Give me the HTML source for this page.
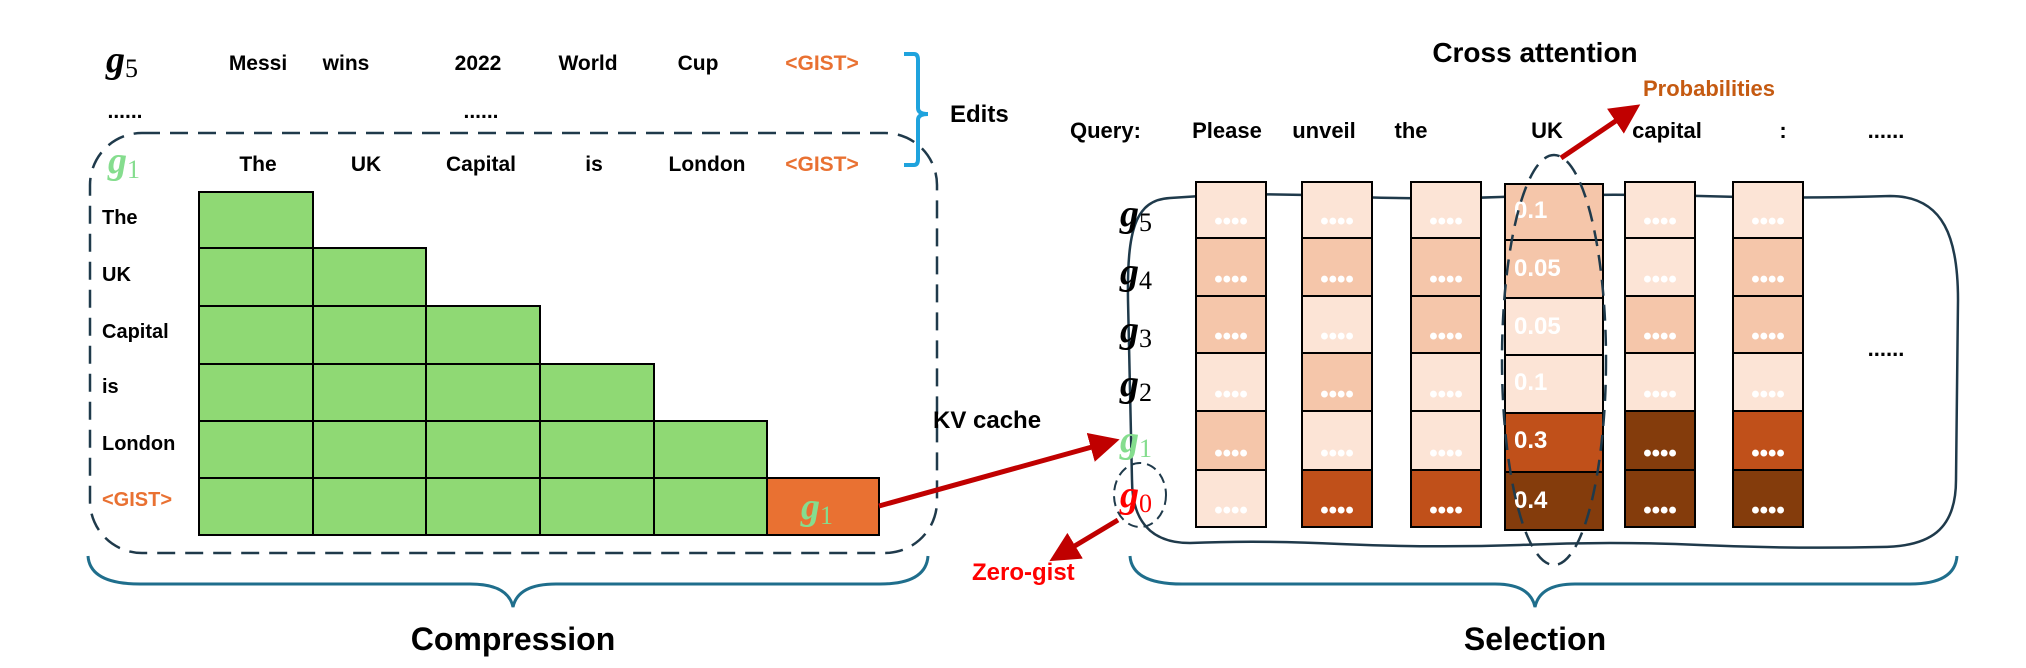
<!DOCTYPE html>
<html><head><meta charset="utf-8"><style>
html,body{margin:0;padding:0;background:#fff;}
svg{display:block;}
text{font-family:"Liberation Sans",sans-serif;font-weight:bold;}
.g{font-family:"Liberation Serif",serif;font-style:italic;font-weight:bold;}
.s{font-family:"Liberation Serif",serif;font-style:normal;font-weight:normal;}
</style></head><body>
<svg width="2026" height="668" viewBox="0 0 2026 668" xmlns="http://www.w3.org/2000/svg">
<defs>
<marker id="ar" markerWidth="6" markerHeight="6" refX="4" refY="3" orient="auto" markerUnits="strokeWidth"><path d="M0,0 L6,3 L0,6 z" fill="#C00000"/></marker>
</defs>

<!-- LEFT: top rows -->
<g font-size="21" text-anchor="middle" fill="#000">
<text x="258" y="70">Messi</text><text x="346" y="70">wins</text><text x="478" y="70">2022</text>
<text x="588" y="70">World</text><text x="698" y="70">Cup</text>
<text x="822" y="70" fill="#E97132">&lt;GIST&gt;</text>
<text x="125" y="118">......</text><text x="481" y="118">......</text>
<text x="258" y="171">The</text><text x="366" y="171">UK</text><text x="481" y="171">Capital</text>
<text x="594" y="171">is</text><text x="707" y="171">London</text>
<text x="822" y="171" fill="#E97132">&lt;GIST&gt;</text>
</g>
<text x="106" y="72" font-size="38" class="g">g<tspan class="s" font-size="26" dy="5">5</tspan></text>
<text x="108" y="173" font-size="38" class="g" fill="#85DD8E">g<tspan class="s" font-size="26" dy="5">1</tspan></text>

<!-- blue bracket -->
<path d="M904,54 L914,54 Q918,54 918,60 L918,108 Q918,114 928,114 Q918,114 918,120 L918,159 Q918,165 914,165 L904,165" fill="none" stroke="#1FA3DD" stroke-width="4"/>
<text x="950" y="122" font-size="24">Edits</text>

<!-- dashed box -->
<rect x="90" y="133" width="847" height="420" rx="52" ry="52" fill="none" stroke="#1F3A4B" stroke-width="2.5" stroke-dasharray="18,10"/>

<!-- row labels -->
<g font-size="20">
<text x="102" y="224">The</text><text x="102" y="281">UK</text><text x="102" y="338">Capital</text>
<text x="102" y="393">is</text><text x="102" y="450">London</text>
<text x="102" y="506" fill="#E97132">&lt;GIST&gt;</text>
</g>

<!-- triangle grid -->
<g fill="#8FD974" stroke="#000" stroke-width="2">
<rect x="199" y="192" width="114" height="56"/>
<rect x="199" y="248" width="114" height="58"/><rect x="313" y="248" width="113" height="58"/>
<rect x="199" y="306" width="114" height="58"/><rect x="313" y="306" width="113" height="58"/><rect x="426" y="306" width="114" height="58"/>
<rect x="199" y="364" width="114" height="57"/><rect x="313" y="364" width="113" height="57"/><rect x="426" y="364" width="114" height="57"/><rect x="540" y="364" width="114" height="57"/>
<rect x="199" y="421" width="114" height="57"/><rect x="313" y="421" width="113" height="57"/><rect x="426" y="421" width="114" height="57"/><rect x="540" y="421" width="114" height="57"/><rect x="654" y="421" width="113" height="57"/>
<rect x="199" y="478" width="114" height="57"/><rect x="313" y="478" width="113" height="57"/><rect x="426" y="478" width="114" height="57"/><rect x="540" y="478" width="114" height="57"/><rect x="654" y="478" width="113" height="57"/>
<rect x="767" y="478" width="112" height="57" fill="#E97132"/>
</g>
<text x="801" y="519" font-size="38" class="g" fill="#85DD8E">g<tspan class="s" font-size="26" dy="5">1</tspan></text>

<!-- bottom brace left -->
<path d="M88,556 Q90,584 140,584 L470,584 Q508,584 513,607 Q518,584 556,584 L880,584 Q926,584 928,556" fill="none" stroke="#1F6E8C" stroke-width="3"/>
<text x="513" y="650" font-size="32" text-anchor="middle">Compression</text>

<!-- KV cache arrow -->
<text x="933" y="428" font-size="24">KV cache</text>
<line x1="879" y1="506" x2="1110" y2="442" stroke="#C00000" stroke-width="5" marker-end="url(#ar)"/>

<!-- RIGHT -->
<text x="1535" y="62" font-size="28" text-anchor="middle">Cross attention</text>
<text x="1643" y="96" font-size="22" fill="#C55A11">Probabilities</text>
<line x1="1561" y1="158" x2="1632" y2="110" stroke="#C00000" stroke-width="5" marker-end="url(#ar)"/>
<g font-size="22" text-anchor="middle">
<text x="1070" y="138" text-anchor="start">Query:</text>
<text x="1227" y="138">Please</text><text x="1324" y="138">unveil</text><text x="1411" y="138">the</text>
<text x="1547" y="138">UK</text><text x="1667" y="138">capital</text><text x="1783" y="138">:</text><text x="1886" y="138">......</text>
</g>

<!-- wavy box -->
<path d="M1170,198 Q1250,192 1330,196 Q1420,200 1500,197 Q1600,193 1700,196 Q1800,199 1890,196 C1945,196 1958,240 1958,300 L1956,480 C1956,530 1930,547 1880,547 Q1790,549 1700,545 Q1610,541 1520,545 Q1430,548 1340,544 Q1260,540 1190,543 C1150,543 1132,520 1132,480 L1128,300 C1127,230 1135,200 1170,198 Z" fill="none" stroke="#1F3A4B" stroke-width="2.5"/>

<!-- row labels g5..g0 -->
<g font-size="38" class="g">
<text x="1120" y="226" class="g">g<tspan class="s" font-size="26" dy="5">5</tspan></text>
<text x="1120" y="284" class="g">g<tspan class="s" font-size="26" dy="5">4</tspan></text>
<text x="1120" y="342" class="g">g<tspan class="s" font-size="26" dy="5">3</tspan></text>
<text x="1120" y="396" class="g">g<tspan class="s" font-size="26" dy="5">2</tspan></text>
<text x="1120" y="452" class="g" fill="#85DD8E">g<tspan class="s" font-size="26" dy="5">1</tspan></text>
<text x="1120" y="507" class="g" fill="#FF0000">g<tspan class="s" font-size="26" dy="5">0</tspan></text>
</g>
<ellipse cx="1140" cy="495" rx="26" ry="32" fill="none" stroke="#1F3A4B" stroke-width="2" stroke-dasharray="10,6"/>
<line x1="1118" y1="520" x2="1058" y2="556" stroke="#C00000" stroke-width="5" marker-end="url(#ar)"/>
<text x="972" y="580" font-size="24" fill="#FF0000">Zero-gist</text>

<!-- attention columns -->
<g stroke="#000" stroke-width="2">
<rect x="1196" y="182" width="70" height="56" fill="#FCE4D6"/><rect x="1196" y="238" width="70" height="58" fill="#F5C6AA"/><rect x="1196" y="296" width="70" height="57" fill="#F5C6AA"/><rect x="1196" y="353" width="70" height="58" fill="#FCE4D6"/><rect x="1196" y="411" width="70" height="59" fill="#F5C6AA"/><rect x="1196" y="470" width="70" height="57" fill="#FCE4D6"/>
<rect x="1302" y="182" width="70" height="56" fill="#FCE4D6"/><rect x="1302" y="238" width="70" height="58" fill="#F5C6AA"/><rect x="1302" y="296" width="70" height="57" fill="#FCE4D6"/><rect x="1302" y="353" width="70" height="58" fill="#F5C6AA"/><rect x="1302" y="411" width="70" height="59" fill="#FCE4D6"/><rect x="1302" y="470" width="70" height="57" fill="#C0501A"/>
<rect x="1411" y="182" width="70" height="56" fill="#FCE4D6"/><rect x="1411" y="238" width="70" height="58" fill="#F5C6AA"/><rect x="1411" y="296" width="70" height="57" fill="#F5C6AA"/><rect x="1411" y="353" width="70" height="58" fill="#FCE4D6"/><rect x="1411" y="411" width="70" height="59" fill="#FCE4D6"/><rect x="1411" y="470" width="70" height="57" fill="#C0501A"/>
<rect x="1505" y="184" width="98" height="56" fill="#F5C6AA"/><rect x="1505" y="240" width="98" height="58" fill="#F5C6AA"/><rect x="1505" y="298" width="98" height="57" fill="#FCE4D6"/><rect x="1505" y="355" width="98" height="58" fill="#FCE4D6"/><rect x="1505" y="413" width="98" height="59" fill="#C0501A"/><rect x="1505" y="472" width="98" height="58" fill="#843C0C"/>
<rect x="1625" y="182" width="70" height="56" fill="#FCE4D6"/><rect x="1625" y="238" width="70" height="58" fill="#FCE4D6"/><rect x="1625" y="296" width="70" height="57" fill="#F5C6AA"/><rect x="1625" y="353" width="70" height="58" fill="#FCE4D6"/><rect x="1625" y="411" width="70" height="59" fill="#843C0C"/><rect x="1625" y="470" width="70" height="57" fill="#843C0C"/>
<rect x="1733" y="182" width="70" height="56" fill="#FCE4D6"/><rect x="1733" y="238" width="70" height="58" fill="#F5C6AA"/><rect x="1733" y="296" width="70" height="57" fill="#F5C6AA"/><rect x="1733" y="353" width="70" height="58" fill="#FCE4D6"/><rect x="1733" y="411" width="70" height="59" fill="#C0501A"/><rect x="1733" y="470" width="70" height="57" fill="#843C0C"/>
</g>
<!-- dots -->
<g font-size="24" fill="#fff" text-anchor="middle">
<text x="1231" y="229">••••</text><text x="1231" y="287">••••</text><text x="1231" y="344">••••</text><text x="1231" y="402">••••</text><text x="1231" y="461">••••</text><text x="1231" y="518">••••</text>
<text x="1337" y="229">••••</text><text x="1337" y="287">••••</text><text x="1337" y="344">••••</text><text x="1337" y="402">••••</text><text x="1337" y="461">••••</text><text x="1337" y="518">••••</text>
<text x="1446" y="229">••••</text><text x="1446" y="287">••••</text><text x="1446" y="344">••••</text><text x="1446" y="402">••••</text><text x="1446" y="461">••••</text><text x="1446" y="518">••••</text>
<text x="1660" y="229">••••</text><text x="1660" y="287">••••</text><text x="1660" y="344">••••</text><text x="1660" y="402">••••</text><text x="1660" y="461">••••</text><text x="1660" y="518">••••</text>
<text x="1768" y="229">••••</text><text x="1768" y="287">••••</text><text x="1768" y="344">••••</text><text x="1768" y="402">••••</text><text x="1768" y="461">••••</text><text x="1768" y="518">••••</text>
</g>
<g font-size="24" fill="#fff">
<text x="1514" y="218">0.1</text><text x="1514" y="276">0.05</text><text x="1514" y="334">0.05</text>
<text x="1514" y="390">0.1</text><text x="1514" y="448">0.3</text><text x="1514" y="508">0.4</text>
</g>
<text x="1886" y="356" font-size="22" text-anchor="middle">......</text>

<!-- dashed ellipse -->
<ellipse cx="1554" cy="360" rx="52" ry="205" fill="none" stroke="#1F3A4B" stroke-width="2.5" stroke-dasharray="16,9"/>

<!-- bottom brace right -->
<path d="M1130,556 Q1132,584 1182,584 L1495,584 Q1530,584 1535,607 Q1540,584 1575,584 L1910,584 Q1955,584 1957,556" fill="none" stroke="#1F6E8C" stroke-width="3"/>
<text x="1535" y="650" font-size="32" text-anchor="middle">Selection</text>
</svg>
</body></html>
